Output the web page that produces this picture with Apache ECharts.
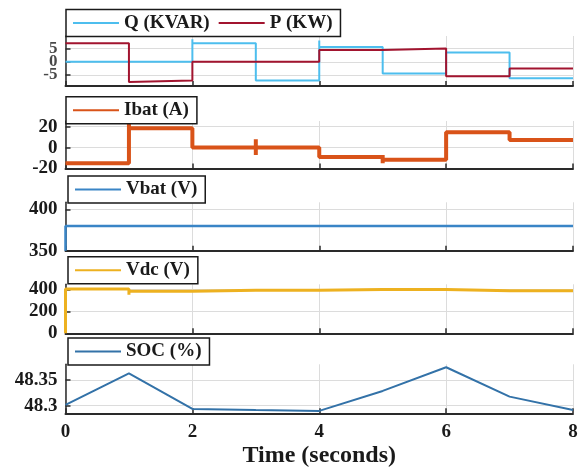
<!DOCTYPE html>
<html><head><meta charset="utf-8">
<script src="https://cdn.jsdelivr.net/npm/echarts@6/dist/echarts.min.js"></script>
<style>html,body{margin:0;padding:0;background:#fff}#c{width:581px;height:469px}</style>
</head><body><div id="c"></div>
<script>
// ---- data ----
const segTimes   = [0, 1, 2, 3, 4, 5, 6, 7, 8];          // switching instants (s)
const qValues    = [0, 0, 7, -7, 5.6, -4.4, 3.5, -6.2];   // Q (KVAR) per interval
const pValues    = [7, -7, 0, 0, 4.4, 5.0, -5.4, -2.5];   // P (KW) per interval
const qSpikes    = {2: [8.5], 4: [8]};
const pSpikes    = {1: [-7.6]};
const ibatValues = [-15, 18.5, 0, 0, -9.1, -11.7, 14.7, 7.3];
const ibatSpikes = {1: [25], 3: [8, -7], 5: [-7, -15]};
const vbatStart  = 350;
const vbatValues = [380, 380, 380, 380, 380, 380, 380, 380];
const vdcStart   = 0;
const vdcValues  = [402, 382, 392, 392, 398, 398, 386, 386];
const vdcSpikes  = {1: [350]};
const socTimes   = [0, 1, 2, 3, 4, 5, 6, 7, 8];
const socValues  = [48.3014, 48.363, 48.2936, 48.2916, 48.2897, 48.3286, 48.3747, 48.3175, 48.2916];
const xTicks     = [0, 2, 4, 6, 8];
const qpTicks    = [-5, 0, 5];
const ibatTicks  = [-20, 0, 20];
const vbatTicks  = [350, 400];
const vdcTicks   = [0, 200, 400];
const socTicks   = [48.3, 48.35];

function buildStep(times, values, spikes, start) {
  const pts = [];
  if (start !== undefined) pts.push([times[0], start]);
  for (let i = 0; i < values.length; i++) {
    const t = times[i];
    if (i > 0) {
      pts.push([t, values[i - 1]]);
      if (spikes && spikes[t]) spikes[t].forEach(v => pts.push([t, v]));
    }
    pts.push([t, values[i]]);
  }
  pts.push([times[values.length], values[values.length - 1]]);
  return pts;
}

const FONT = "'Liberation Serif','Times New Roman',serif";
const INK = '#1a1a1a';
const grids = [
  {top: 36, height: 50},
  {top: 121, height: 47.5},
  {top: 202.3, height: 48.4},
  {top: 284.3, height: 49},
  {top: 364.3, height: 49}
].map(g => Object.assign({left: 65.5, right: 8}, g));

const yDefs = [
  {min: -9.1, max: 9.7, ticks: qpTicks, axisLabels: false},
  {min: -20, max: 25.5, ticks: ibatTicks, axisLabels: true},
  {min: 350, max: 408.5, ticks: vbatTicks, axisLabels: true},
  {min: 0, max: 445, ticks: vdcTicks, axisLabels: true},
  {min: 48.285, max: 48.3805, ticks: socTicks, axisLabels: true}
];

const xAxes = grids.map((g, i) => ({
  type: 'value', gridIndex: i, min: 0, max: 8, interval: 2,
  axisLine: {show: true, onZero: false, lineStyle: {color: '#2a2a2a', width: 2}},
  axisTick: {show: true, inside: true, length: 5, lineStyle: {color: '#2a2a2a', width: 1.5}},
  splitLine: {show: true, lineStyle: {color: '#dcdcdc', width: 1}},
  axisLabel: {show: i === 4, margin: 9, fontFamily: FONT, fontWeight: 'bold', fontSize: 19, color: INK},
  name: i === 4 ? 'Time (seconds)' : '',
  nameLocation: 'middle', nameGap: 30,
  nameTextStyle: {fontFamily: FONT, fontWeight: 'bold', fontSize: 24, color: INK}
}));

const yAxes = yDefs.map((d, i) => ({
  type: 'value', gridIndex: i, min: d.min, max: d.max,
  axisLine: {show: true, onZero: false, lineStyle: {color: '#2a2a2a', width: 1.5}},
  axisTick: {show: true, inside: true, length: 5, customValues: d.ticks, lineStyle: {color: '#2a2a2a', width: 1.5}},
  splitLine: {show: true, lineStyle: {color: '#dcdcdc', width: 1}},
  axisLabel: {show: d.axisLabels, customValues: d.ticks, hideOverlap: false, margin: 8, fontFamily: FONT,
              fontWeight: 'bold', fontSize: 19, color: INK}
}));

function legend(names, left, top) {
  return {
    data: names, left: left, top: top, orient: 'horizontal', selectedMode: false,
    icon: 'rect', itemWidth: 46, itemHeight: 2, itemGap: 9,
    padding: [4, 8, 4, 7], borderColor: INK, borderWidth: 1.5, backgroundColor: '#fff',
    textStyle: {fontFamily: FONT, fontWeight: 'bold', fontSize: 19, color: INK, lineHeight: 18}
  };
}

function line(name, data, idx, color, width) {
  return {
    name: name, type: 'line', data: data, xAxisIndex: idx, yAxisIndex: idx,
    showSymbol: false, symbol: 'none', color: color,
    lineStyle: {color: color, width: width}, animation: false, z: 3
  };
}

// tick labels of the tightly packed top panel, placed through that panel's scales
const qpTickLabels = {
  type: 'scatter', xAxisIndex: 0, yAxisIndex: 0, silent: true, animation: false,
  data: qpTicks.map(v => [0, v]), symbolSize: 0.01, clip: false, z: 10,
  label: {show: true, position: 'left', distance: 8, formatter: p => String(p.value[1]),
          fontFamily: FONT, fontWeight: 'bold', fontSize: 17, lineHeight: 13, color: INK}
};

const option = {
  animation: false,
  backgroundColor: '#fff',
  grid: grids,
  xAxis: xAxes,
  yAxis: yAxes,
  legend: [
    legend(['Q (KVAR)', 'P (KW)'], 66, 9.5),
    legend(['Ibat (A)'], 66, 96.7),
    legend(['Vbat (V)'], 68, 176),
    legend(['Vdc (V)'], 68, 256.7),
    legend(['SOC (%)'], 68, 338)
  ],
  series: [
    line('Q (KVAR)', buildStep(segTimes, qValues, qSpikes), 0, '#4DBEEE', 2),
    line('P (KW)', buildStep(segTimes, pValues, pSpikes), 0, '#A2142F', 2),
    line('Ibat (A)', buildStep(segTimes, ibatValues, ibatSpikes), 1, '#D95319', 4),
    line('Vbat (V)', buildStep(segTimes, vbatValues, null, vbatStart), 2, '#3A85C6', 2.5),
    line('Vdc (V)', buildStep(segTimes, vdcValues, vdcSpikes, vdcStart), 3, '#EDB120', 3),
    line('SOC (%)', socTimes.map((t, i) => [t, socValues[i]]), 4, '#3372A8', 2),
    qpTickLabels
  ]
};

const chart = echarts.init(document.getElementById('c'), null, {renderer: 'canvas'});
chart.setOption(option);
</script>
</body></html>
